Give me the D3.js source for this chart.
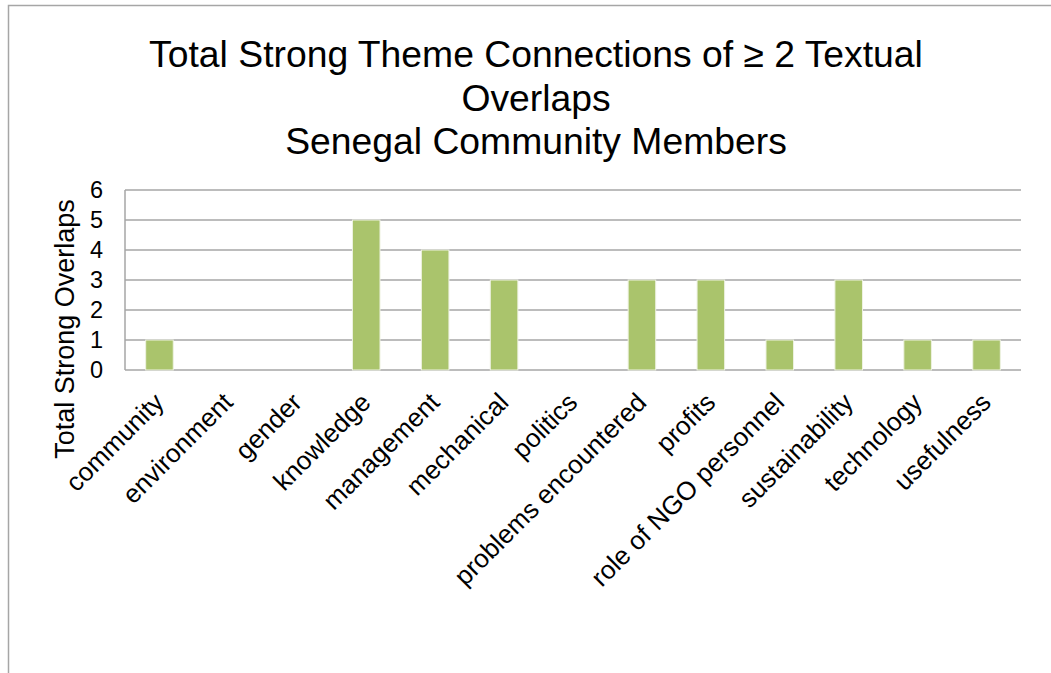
<!DOCTYPE html>
<html>
<head>
<meta charset="utf-8">
<script src="https://cdn.jsdelivr.net/npm/d3@7"></script>
<style>
  html, body { margin: 0; padding: 0; background: #fff; }
  svg { display: block; font-family: "Liberation Sans", Arial, sans-serif; }
</style>
</head>
<body>
<svg id="chart" width="1051" height="673"></svg>
<script>
// Theme categories and number of strong overlaps per theme
const categories = [
  "community", "environment", "gender", "knowledge", "management",
  "mechanical", "politics", "problems encountered", "profits",
  "role of NGO personnel", "sustainability", "technology", "usefulness"
];
const overlaps = [1, 0, 0, 5, 4, 3, 0, 3, 3, 1, 3, 1, 1];
const yTicks = [0, 1, 2, 3, 4, 5, 6];
const titleLines = [
  "Total Strong Theme Connections of \u2265 2 Textual",
  "Overlaps",
  "Senegal Community Members"
];
const yTitle = "Total Strong Overlaps";

const data = categories.map((c, i) => ({ category: c, value: overlaps[i] }));

const svg = d3.select("#chart");

// Outer chart frame
svg.append("rect")
  .attr("x", 8.5).attr("y", 5.5)
  .attr("width", 1100).attr("height", 700)
  .attr("fill", "none")
  .attr("stroke", "#a6a6a6")
  .attr("stroke-width", 1.5);

const plot = { left: 125, right: 1021, top: 190, bottom: 370 };

const x = d3.scaleBand()
  .domain(categories)
  .range([plot.left, plot.right])
  .padding(0);

const y = d3.scaleLinear()
  .domain([0, 6])
  .range([plot.bottom, plot.top]);

// Horizontal gridlines
svg.append("g")
  .selectAll("line")
  .data(yTicks)
  .join("line")
  .attr("x1", plot.left).attr("x2", plot.right)
  .attr("y1", d => y(d)).attr("y2", d => y(d))
  .attr("stroke", "#a6a6a6")
  .attr("stroke-width", 1.5);

// Vertical axis line
svg.append("line")
  .attr("x1", plot.left).attr("x2", plot.left)
  .attr("y1", y(6)).attr("y2", y(0))
  .attr("stroke", "#a6a6a6")
  .attr("stroke-width", 1.5);

// Bars: width is band / 2.5 (150% gap)
const barW = x.bandwidth() / 2.5;
svg.append("g")
  .selectAll("rect")
  .data(data.filter(d => d.value > 0))
  .join("rect")
  .attr("x", d => x(d.category) + (x.bandwidth() - barW) / 2)
  .attr("y", d => y(d.value))
  .attr("width", barW)
  .attr("height", d => y(0) - y(d.value))
  .attr("fill", "#aac46c")
  .attr("stroke", "#eef2e2")
  .attr("stroke-width", 1);

// Y tick labels
svg.append("g")
  .selectAll("text")
  .data(yTicks)
  .join("text")
  .attr("x", 103)
  .attr("y", d => y(d))
  .attr("dy", "0.36em")
  .attr("text-anchor", "end")
  .attr("font-size", 23.5)
  .attr("fill", "#000")
  .text(d => d);

// Category labels, rotated 45 degrees
svg.append("g")
  .selectAll("text")
  .data(categories)
  .join("text")
  .attr("transform", d => {
    const cx = x(d) + x.bandwidth() / 2 + 6;
    return `translate(${cx},${plot.bottom + 34}) rotate(-45)`;
  })
  .attr("text-anchor", "end")
  .attr("font-size", 26)
  .attr("fill", "#000")
  .text(d => d);

// Y axis title
svg.append("text")
  .attr("transform", "translate(74,329) rotate(-90)")
  .attr("text-anchor", "middle")
  .attr("font-size", 27)
  .attr("fill", "#000")
  .text(yTitle);

// Chart title
svg.append("g")
  .selectAll("text")
  .data(titleLines)
  .join("text")
  .attr("x", 536)
  .attr("y", (d, i) => 67 + i * 43.5)
  .attr("text-anchor", "middle")
  .attr("font-size", 37.3)
  .attr("fill", "#000")
  .text(d => d);
</script>
</body>
</html>
